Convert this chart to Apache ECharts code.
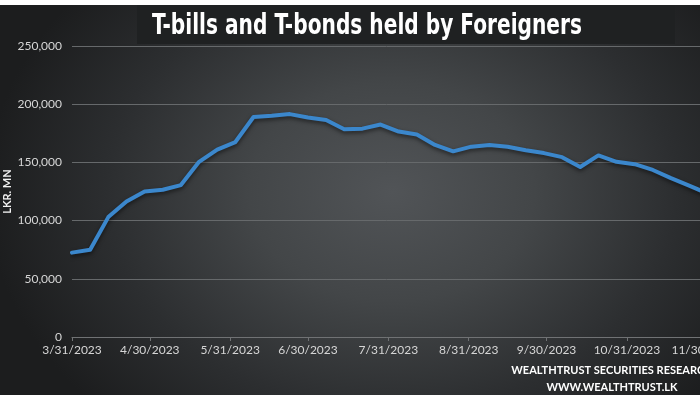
<!DOCTYPE html>
<html>
<head>
<meta charset="utf-8">
<script src="https://cdn.jsdelivr.net/npm/echarts@6/dist/echarts.min.js"></script>
<style>
  html, body { margin: 0; padding: 0; background: #ffffff; }
  #wrap { position: relative; width: 700px; height: 400px; background: #ffffff; overflow: hidden; }
  #bg { position: absolute; left: 0; top: 5px; width: 700px; height: 390px;
        background: radial-gradient(ellipse 58% 80% at 56% 48%, #515457 0%, #434648 35%, #2c2e30 70%, #1c1d1e 100%); }
  #chart { position: absolute; left: 0; top: 0; width: 700px; height: 400px; }
</style>
</head>
<body>
<div id="wrap"><div id="bg"></div><div id="chart"></div></div>
<script>
// ---- data ----
const titleText = 'T-bills and T-bonds held by Foreigners';
const yAxisName = 'LKR. MN';
const footerLines = ['WEALTHTRUST SECURITIES RESEARCH', 'WWW.WEALTHTRUST.LK'];

const dates = [
  '2023-03-31','2023-04-07','2023-04-14','2023-04-21','2023-04-28',
  '2023-05-05','2023-05-12','2023-05-19','2023-05-26',
  '2023-06-02','2023-06-09','2023-06-16','2023-06-23','2023-06-30',
  '2023-07-07','2023-07-14','2023-07-21','2023-07-28',
  '2023-08-04','2023-08-11','2023-08-18','2023-08-25',
  '2023-09-01','2023-09-08','2023-09-15','2023-09-22','2023-09-29',
  '2023-10-06','2023-10-13','2023-10-20','2023-10-27',
  '2023-11-03','2023-11-10','2023-11-17','2023-11-24','2023-12-01'
];
const holdings = [
  72500, 75000, 103000, 116500, 125000,
  126500, 130500, 150500, 161000,
  167500, 189000, 190000, 191500, 188500,
  186500, 178500, 179000, 182500,
  176500, 174000, 165000, 159500,
  163500, 165000, 163500, 160500, 158000,
  154500, 146000, 156000, 150500,
  148500, 143500, 136500, 130000, 123500
];
const xTickDates = ['2023-03-31','2023-04-30','2023-05-31','2023-06-30','2023-07-31',
                    '2023-08-31','2023-09-30','2023-10-31','2023-11-30'];
const yMin = 0, yMax = 250000, yStep = 50000;
const xStart = '2023-03-31', xEnd = '2023-12-31';

// ---- helpers ----
function ts(s) { const p = s.split('-'); return new Date(+p[0], +p[1] - 1, +p[2]).getTime(); }
function fmtDate(v) { const d = new Date(v); return (d.getMonth() + 1) + '/' + d.getDate() + '/' + d.getFullYear(); }

const titleFont = 'bold 29px "DejaVu Sans Condensed", "DejaVu Sans", sans-serif';
const mctx = document.createElement('canvas').getContext('2d');
mctx.font = titleFont;
const titleScale = 430 / mctx.measureText(titleText).width;

const chart = echarts.init(document.getElementById('chart'), null, { renderer: 'canvas' });
const dayPx = 2.593;
const spanDays = (ts(xEnd) - ts(xStart)) / 86400000;
const xTickVals = xTickDates.map(ts);

chart.setOption({
  backgroundColor: 'transparent',
  animation: false,
  grid: { left: 72, top: 46, width: spanDays * dayPx, height: 291, containLabel: false, outerBoundsMode: 'none' },
  xAxis: {
    type: 'value',
    min: ts(xStart),
    max: ts(xEnd),
    axisLine: { show: true, onZero: false, lineStyle: { color: '#707274', width: 1 } },
    axisTick: { show: true, customValues: xTickVals, length: 4, lineStyle: { color: '#707274' } },
    axisLabel: {
      customValues: xTickVals,
      formatter: fmtDate,
      color: '#d6d6d6', fontFamily: 'Lato', fontSize: 12, margin: 7,
      hideOverlap: false
    },
    splitLine: { show: false }
  },
  yAxis: {
    type: 'value',
    min: yMin, max: yMax, interval: yStep,
    name: yAxisName,
    nameLocation: 'middle',
    nameGap: 59,
    nameMoveOverlap: false,
    nameRotate: 90,
    nameTextStyle: { color: '#f2f2f2', fontFamily: 'Lato', fontWeight: 'bold', fontSize: 11 },
    axisLine: { show: false },
    axisTick: { show: false },
    axisLabel: {
      color: '#d6d6d6', fontFamily: 'Lato', fontSize: 12, margin: 10,
      formatter: v => v.toLocaleString('en-US')
    },
    splitLine: { show: true, lineStyle: { color: '#66696b', width: 1 } }
  },
  series: [{
    type: 'line',
    data: dates.map((d, i) => [ts(d), holdings[i]]),
    showSymbol: false,
    symbol: 'none',
    smooth: false,
    lineStyle: { color: '#3b87cc', width: 4, shadowColor: 'rgba(0,0,0,0.55)', shadowBlur: 4, shadowOffsetY: 2, cap: 'round', join: 'round' },
    z: 3
  }],
  graphic: [
    { type: 'rect', z: 10, shape: { x: 137, y: 5, width: 538, height: 39 }, style: { fill: '#1f2122' } },
    { type: 'text', z: 11, x: 367, y: 26, scaleX: titleScale, scaleY: 1,
      style: { text: titleText, font: titleFont, fill: '#ffffff', align: 'center', verticalAlign: 'middle' } },
    { type: 'text', z: 11, x: 612, y: 370,
      style: { text: footerLines[0], font: 'bold 11px Lato', fill: '#ffffff', align: 'center', verticalAlign: 'middle' } },
    { type: 'text', z: 11, x: 612, y: 387,
      style: { text: footerLines[1], font: 'bold 11px Lato', fill: '#ffffff', align: 'center', verticalAlign: 'middle' } }
  ]
});
</script>
</body>
</html>
